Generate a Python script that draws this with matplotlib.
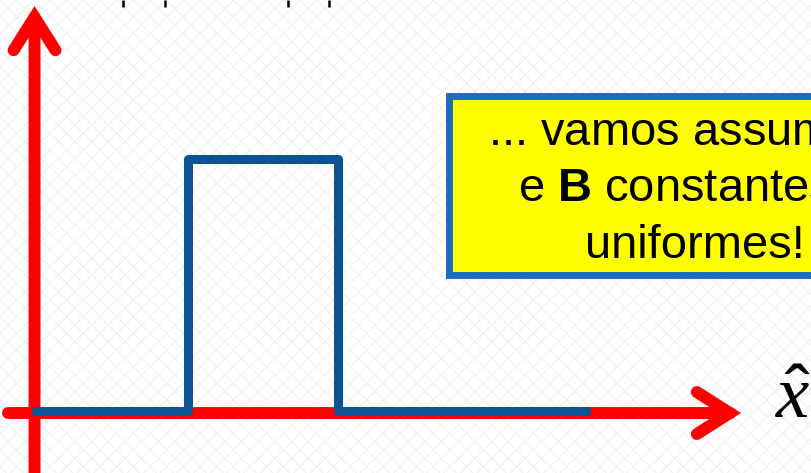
import numpy as np
import matplotlib
matplotlib.use("Agg")
import matplotlib.pyplot as plt
from matplotlib.patches import Rectangle

plt.rcParams['font.family'] = ['Liberation Sans', 'DejaVu Sans']
plt.rcParams['mathtext.fontset'] = 'custom'
plt.rcParams['mathtext.rm'] = 'Liberation Sans'
plt.rcParams['mathtext.bf'] = 'Liberation Sans:bold'
plt.rcParams['mathtext.it'] = 'Liberation Serif:italic'
plt.rcParams['hatch.color'] = '#f3f3f3'
plt.rcParams['hatch.linewidth'] = 1.0

# rectangular pulse (x in units of pulse width, y normalised to pulse height)
pulse_x = [-0.04, 1.0, 1.0, 2.0, 2.0, 3.68]
pulse_y = [0, 0, 1, 1, 0, 0]

# little tick marks cut off at the top edge
top_ticks = [0.567, 0.847, 1.667, 1.94]

box_lines = [r"... vamos assumir $\mathbf{E}$",
             r"e $\mathbf{B}$ constantes e",
             "uniformes!"]

RED = '#FF0000'
BLUE = '#0B5394'

fig = plt.figure(figsize=(8.11, 4.73), dpi=100)
ax = fig.add_axes([0, 0, 1, 1])
ax.set_xlim(-0.2533, 5.1533)
ax.set_ylim(-0.246, 1.631)
ax.axis('off')

# faint textured background
ax.add_patch(Rectangle((0, 0), 1, 1, transform=ax.transAxes, facecolor='white',
                       edgecolor='#f3f3f3', hatch='xx', linewidth=0, zorder=0))

# axes with open arrow heads
arrow = dict(arrowstyle='->,head_length=23.8,head_width=15.1', mutation_scale=1,
             color=RED, lw=8.6, capstyle='round', joinstyle='miter',
             shrinkA=0, shrinkB=0)
ax.annotate('', xy=(4.687, -0.008), xytext=(-0.2, -0.008), arrowprops=arrow, zorder=2)
ax.annotate('', xy=(-0.023, 1.607), xytext=(-0.023, -0.35), arrowprops=arrow, zorder=2)

ax.plot(pulse_x, pulse_y, color=BLUE, lw=6.5, solid_joinstyle='round',
        solid_capstyle='butt', zorder=3)

ax.vlines(top_ticks, 1.603, 1.631, color='black', lw=1.8, zorder=2)

# yellow note box, running off the right edge
ax.add_patch(Rectangle((2.737, 0.538), 3.0, 0.714, facecolor='#FFFF00',
                       edgecolor='#1C6DC2', lw=5, zorder=4))
for txt, yb in zip(box_lines, [1.056, 0.833, 0.607]):
    ax.text(4.38, yb, txt, ha='center', va='baseline', fontsize=33.9, zorder=5)

ax.text(4.91, -0.028, r'$\hat{x}$', ha='left', va='baseline', fontsize=54, zorder=5)

fig.savefig('out.png', dpi=100)
